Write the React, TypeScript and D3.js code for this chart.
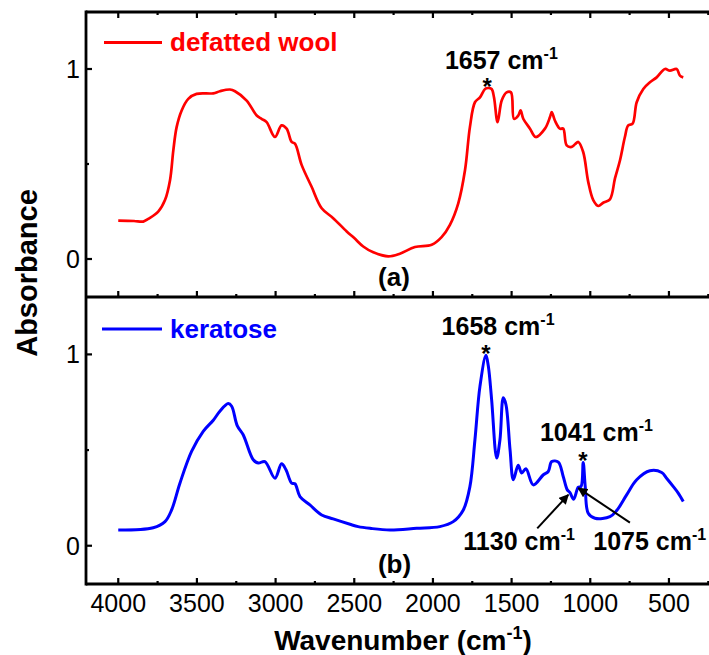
import React from "react";
import * as d3 from "d3";

// ---------- data ----------
const woolWavenumber = [4000, 3900, 3841, 3809, 3746, 3703, 3671, 3650, 3629, 3597, 3555, 3502, 3396, 3354, 3290, 3258, 3184, 3120, 3089, 3057, 3004, 2962, 2930, 2898, 2877, 2834, 2771, 2707, 2634, 2548, 2500, 2443, 2379, 2284, 2210, 2114, 2008, 1945, 1892, 1839, 1796, 1765, 1733, 1701, 1669, 1650, 1627, 1612, 1589, 1563, 1532, 1504, 1485, 1458, 1443, 1426, 1383, 1347, 1288, 1256, 1245, 1225, 1193, 1172, 1150, 1118, 1097, 1076, 1045, 1013, 981, 949, 918, 875, 843, 811, 780, 759, 731, 705, 663, 621, 578, 525, 494, 451, 430, 409];
const woolAbsorbance = [0.202, 0.2, 0.197, 0.211, 0.249, 0.31, 0.415, 0.572, 0.694, 0.782, 0.843, 0.869, 0.872, 0.883, 0.892, 0.883, 0.834, 0.755, 0.738, 0.72, 0.642, 0.703, 0.686, 0.616, 0.607, 0.494, 0.38, 0.267, 0.215, 0.145, 0.11, 0.066, 0.035, 0.014, 0.028, 0.063, 0.075, 0.115, 0.18, 0.293, 0.468, 0.694, 0.825, 0.851, 0.895, 0.9, 0.895, 0.851, 0.72, 0.834, 0.877, 0.877, 0.738, 0.755, 0.782, 0.738, 0.686, 0.642, 0.686, 0.747, 0.773, 0.729, 0.686, 0.686, 0.598, 0.59, 0.604, 0.616, 0.563, 0.406, 0.31, 0.279, 0.296, 0.314, 0.424, 0.52, 0.642, 0.703, 0.712, 0.825, 0.895, 0.93, 0.956, 1.0, 0.991, 1.0, 0.965, 0.956];

const keratoseWavenumber = [4000, 3778, 3703, 3661, 3608, 3534, 3460, 3396, 3354, 3301, 3279, 3244, 3206, 3142, 3110, 3068, 3004, 2962, 2934, 2898, 2877, 2845, 2782, 2707, 2634, 2527, 2475, 2400, 2273, 2103, 1956, 1871, 1807, 1765, 1733, 1701, 1663, 1648, 1627, 1595, 1574, 1553, 1536, 1510, 1489, 1458, 1436, 1409, 1362, 1298, 1267, 1245, 1203, 1172, 1146, 1129, 1106, 1076, 1059, 1045, 1032, 1013, 970, 875, 832, 769, 705, 621, 546, 515, 472, 441, 409];
const keratoseAbsorbance = [0.082, 0.094, 0.126, 0.187, 0.327, 0.493, 0.598, 0.656, 0.703, 0.743, 0.729, 0.628, 0.58, 0.449, 0.432, 0.44, 0.353, 0.428, 0.397, 0.327, 0.324, 0.257, 0.213, 0.161, 0.14, 0.112, 0.1, 0.091, 0.082, 0.091, 0.1, 0.126, 0.187, 0.309, 0.554, 0.834, 0.995, 0.939, 0.764, 0.458, 0.554, 0.773, 0.738, 0.502, 0.345, 0.42, 0.38, 0.402, 0.318, 0.371, 0.388, 0.44, 0.437, 0.362, 0.292, 0.278, 0.243, 0.306, 0.309, 0.435, 0.309, 0.17, 0.144, 0.152, 0.184, 0.266, 0.345, 0.392, 0.383, 0.353, 0.309, 0.275, 0.231];

const xMajorTicks = [4000, 3500, 3000, 2500, 2000, 1500, 1000, 500];
const xMinorTicks = [3750, 3250, 2750, 2250, 1750, 1250, 750, 250];
const yMajorTicks = [0, 1];
const yMinorTicks = [0.5];

const seriesNames = ["defatted wool", "keratose"];
const seriesColors = ["#ff0000", "#0000ff"];
const panelLabels = ["(a)", "(b)"];

// annotations: label anchored at (wavenumber, absorbance)
const peakLabelsTop = [{ text: "1657", w: 1924, a: 1.0 }];
const starsTop = [{ w: 1655, a: 0.862 }];
const peakLabelsBottom = [
  { text: "1658", w: 1945, a: 1.1 },
  { text: "1041", w: 1320, a: 0.546 },
  { text: "1130", w: 1807, a: -0.022 },
  { text: "1075", w: 981, a: -0.022 },
];
const starsBottom = [
  { w: 1663, a: 0.962 },
  { w: 1046, a: 0.4 },
];
const arrowsBottom = [
  { w0: 1337, a0: 0.091, w1: 1140, a1: 0.266 },
  { w0: 748, a0: 0.121, w1: 1076, a1: 0.301 },
];

const FONT = "'Liberation Sans', Arial, Helvetica, sans-serif";

export default function App() {
  const W = 709, H = 655;
  const left = 86, top = 12, mid = 297, bottom = 584;
  const x = d3.scaleLinear().domain([4205, 200]).range([left, left + 4005 * 0.15734]);
  const yTop = d3.scaleLinear().domain([-0.2, 1.3]).range([mid, top]);
  const yBot = d3.scaleLinear().domain([-0.2, 1.3]).range([bottom, mid]);

  const mkLine = (ys: d3.ScaleLinear<number, number>, ws: number[], as: number[]) =>
    d3
      .line<number>()
      .x((_, i) => x(ws[i]))
      .y((_, i) => ys(as[i]))
      .curve(d3.curveCatmullRom.alpha(0.5))(as) || "";

  const axisW = 2.8;
  const major = 6, minor = 3;

  const xTicksAt = (yLine: number, dir: number) => (
    <g>
      {xMajorTicks.map((t) => (
        <line key={"M" + t} x1={x(t)} x2={x(t)} y1={yLine} y2={yLine + dir * major} stroke="#000" strokeWidth={2.2} />
      ))}
      {xMinorTicks.map((t) => (
        <line key={"m" + t} x1={x(t)} x2={x(t)} y1={yLine} y2={yLine + dir * minor} stroke="#000" strokeWidth={2.2} />
      ))}
    </g>
  );

  const yTicksFor = (ys: d3.ScaleLinear<number, number>) => (
    <g>
      {yMajorTicks.map((t) => (
        <g key={"M" + t}>
          <line x1={left} x2={left + major} y1={ys(t)} y2={ys(t)} stroke="#000" strokeWidth={2.2} />
          <text x={80} y={ys(t)} dy="0.36em" textAnchor="end" fontSize={25} fontFamily={FONT}>
            {t}
          </text>
        </g>
      ))}
      {yMinorTicks.map((t) => (
        <line key={"m" + t} x1={left} x2={left + minor} y1={ys(t)} y2={ys(t)} stroke="#000" strokeWidth={2.2} />
      ))}
    </g>
  );

  const cmLabel = (key: string, text: string, px: number, py: number) => (
    <text key={key} x={px} y={py} fontSize={25} fontWeight="bold" fontFamily={FONT}>
      {text} cm
      <tspan dy={-10} fontSize={16}>-1</tspan>
    </text>
  );

  const star = (key: string, px: number, py: number) => (
    <text key={key} x={px} y={py} textAnchor="middle" fontSize={24} fontWeight="bold" fontFamily={FONT}>
      *
    </text>
  );

  return (
    <svg width={W} height={H} style={{ position: "absolute", left: 0, top: 0, background: "#fff" }}>
      <rect x={0} y={0} width={W} height={H} fill="#fff" />
      {/* curves */}
      <path d={mkLine(yTop, woolWavenumber, woolAbsorbance)} fill="none" stroke={seriesColors[0]} strokeWidth={2.7} strokeLinejoin="round" />
      <path d={mkLine(yBot, keratoseWavenumber, keratoseAbsorbance)} fill="none" stroke={seriesColors[1]} strokeWidth={3} strokeLinejoin="round" />

      {/* frames */}
      <line x1={left} x2={W} y1={top} y2={top} stroke="#000" strokeWidth={axisW} />
      <line x1={left} x2={W} y1={mid} y2={mid} stroke="#000" strokeWidth={axisW} />
      <line x1={left} x2={W} y1={bottom} y2={bottom} stroke="#000" strokeWidth={axisW} />
      <line x1={left} x2={left} y1={top - axisW / 2} y2={bottom + axisW / 2} stroke="#000" strokeWidth={axisW} />

      {xTicksAt(top, 1)}
      {xTicksAt(mid, -1)}
      {xTicksAt(bottom, -1)}
      {yTicksFor(yTop)}
      {yTicksFor(yBot)}

      {/* x tick labels */}
      {xMajorTicks.map((t) => (
        <text key={"xl" + t} x={x(t)} y={611.5} textAnchor="middle" fontSize={25} fontFamily={FONT}>
          {t}
        </text>
      ))}

      {/* axis titles */}
      <text x={403} y={650} textAnchor="middle" fontSize={28} fontWeight="bold" fontFamily={FONT}>
        Wavenumber (cm
        <tspan dy={-11} fontSize={18}>-1</tspan>
        <tspan dy={11}>)</tspan>
      </text>
      <text transform="translate(36.5,273) rotate(-90)" textAnchor="middle" fontSize={29} fontWeight="bold" fontFamily={FONT}>
        Absorbance
      </text>

      {/* legends */}
      <line x1={104} x2={162} y1={42.5} y2={42.5} stroke={seriesColors[0]} strokeWidth={3} />
      <text x={170} y={50.5} fontSize={26} fontWeight="bold" fill={seriesColors[0]} fontFamily={FONT}>
        {seriesNames[0]}
      </text>
      <line x1={102} x2={162} y1={329} y2={329} stroke={seriesColors[1]} strokeWidth={3} />
      <text x={170} y={337.5} fontSize={26} fontWeight="bold" fill={seriesColors[1]} fontFamily={FONT}>
        {seriesNames[1]}
      </text>

      {/* panel labels */}
      <text x={394} y={286} textAnchor="middle" fontSize={26} fontWeight="bold" fontFamily={FONT}>
        {panelLabels[0]}
      </text>
      <text x={394.5} y={573} textAnchor="middle" fontSize={26} fontWeight="bold" fontFamily={FONT}>
        {panelLabels[1]}
      </text>

      {/* annotations */}
      {peakLabelsTop.map((p, i) => cmLabel("pt" + i, p.text, x(p.w), yTop(p.a)))}
      {starsTop.map((s, i) => star("st" + i, x(s.w), yTop(s.a)))}
      {peakLabelsBottom.map((p, i) => cmLabel("pb" + i, p.text, x(p.w), yBot(p.a)))}
      {starsBottom.map((s, i) => star("sb" + i, x(s.w), yBot(s.a)))}

      <defs>
        <marker id="arrowHead" viewBox="0 0 10 10" refX={9} refY={5} markerWidth={5} markerHeight={5} orient="auto">
          <path d="M0,0 L10,5 L0,10 z" fill="#000" />
        </marker>
      </defs>
      {arrowsBottom.map((a, i) => (
        <line
          key={"ar" + i}
          x1={x(a.w0)}
          y1={yBot(a.a0)}
          x2={x(a.w1)}
          y2={yBot(a.a1)}
          stroke="#000"
          strokeWidth={2}
          markerEnd="url(#arrowHead)"
        />
      ))}
    </svg>
  );
}
